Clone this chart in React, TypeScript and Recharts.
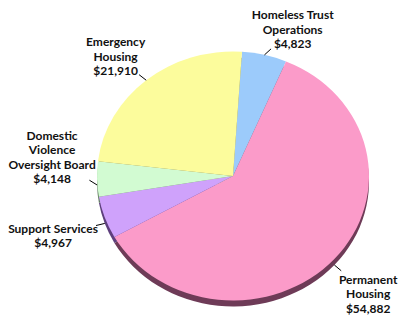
import React from 'react';
import { Cell, Pie, PieChart } from 'recharts';

// slices in drawing order, clockwise from the top
const categories = [
  'Homeless Trust\nOperations',
  'Permanent\nHousing',
  'Support Services',
  'Domestic\nViolence\nOversight Board',
  'Emergency\nHousing',
];
const amounts = [4823, 54882, 4967, 4148, 21910];
const faceColors = ['#9ccbfb', '#fb9bc9', '#cfa2fb', '#d2fbd2', '#fcfc9c'];
const sideColors = ['#4c6580', '#6e3b57', '#5e3f7d', '#5f7a5f', '#7d7d47'];

const data = categories.map((name, i) => ({ name, value: amounts[i] }));

const CX = 233;
const CY = 176;
const R = 136;
const TILT = 0.915;
const DEPTH = 6;
const RAD = Math.PI / 180;
const LINE_H = 14.5;

// hand-tuned label nudges, index matches categories
const labelNudge = [
  [19, 13],
  [4, 8],
  [-14, 5],
  [-5, -23],
  [-5, 7],
];

const css = `
body { margin: 0; }
.face .recharts-sector { transform-origin: ${CX}px ${CY}px; transform: scaleY(${TILT}); }
.side .recharts-sector { transform-origin: ${CX}px ${CY}px; transform: translateY(${DEPTH}px) scaleY(${TILT}); }
`;

function renderLabel(props: any) {
  const { cx, cy, midAngle, outerRadius, index, value } = props;
  const name: string = props.payload?.name ?? props.name;
  const c = Math.cos(-midAngle * RAD);
  const s = Math.sin(-midAngle * RAD);
  const ry = outerRadius * TILT;
  const ex = cx + outerRadius * c;
  const ey = cy + ry * s + (s > 0 ? DEPTH : 0);
  const bx = cx + (outerRadius + 40) * c + labelNudge[index][0];
  const by = cy + (ry + 40) * s + labelNudge[index][1];
  // short leader pointing from the rim toward the label block
  const dx = bx - ex;
  const dy = by - ey;
  const len = Math.hypot(dx, dy) || 1;
  const lx = ex + (9 * dx) / len;
  const ly = ey + (9 * dy) / len;
  const lines = [...name.split('\n'), '$' + Number(value).toLocaleString('en-US')];
  const top = by - ((lines.length - 1) * LINE_H) / 2;

  return (
    <g>
      <line x1={ex} y1={ey} x2={lx} y2={ly} stroke="#000" strokeWidth={1} />
      <text
        x={bx}
        y={top}
        textAnchor="middle"
        fontFamily="Lato, 'Open Sans', sans-serif"
        fontWeight={700}
        fontSize={12}
        fill="#111"
      >
        {lines.map((t, i) => (
          <tspan key={i} x={bx} y={top + i * LINE_H} dominantBaseline="central">
            {t}
          </tspan>
        ))}
      </text>
    </g>
  );
}

export default function App() {
  return (
    <div style={{ width: 401, height: 315, background: '#fff' }}>
      <style>{css}</style>
      <PieChart width={401} height={315} margin={{ top: 0, right: 0, bottom: 0, left: 0 }}>
        <Pie
          className="side"
          data={data}
          dataKey="value"
          nameKey="name"
          cx={CX}
          cy={CY}
          outerRadius={R}
          startAngle={86.2}
          endAngle={-273.8}
          stroke="none"
          label={false}
          labelLine={false}
          isAnimationActive={false}
        >
          {data.map((d, i) => (
            <Cell key={d.name} fill={sideColors[i]} />
          ))}
        </Pie>
        <Pie
          className="face"
          data={data}
          dataKey="value"
          nameKey="name"
          cx={CX}
          cy={CY}
          outerRadius={R}
          startAngle={86.2}
          endAngle={-273.8}
          stroke="none"
          label={renderLabel}
          labelLine={false}
          isAnimationActive={false}
        >
          {data.map((d, i) => (
            <Cell key={d.name} fill={faceColors[i]} />
          ))}
        </Pie>
      </PieChart>
    </div>
  );
}
